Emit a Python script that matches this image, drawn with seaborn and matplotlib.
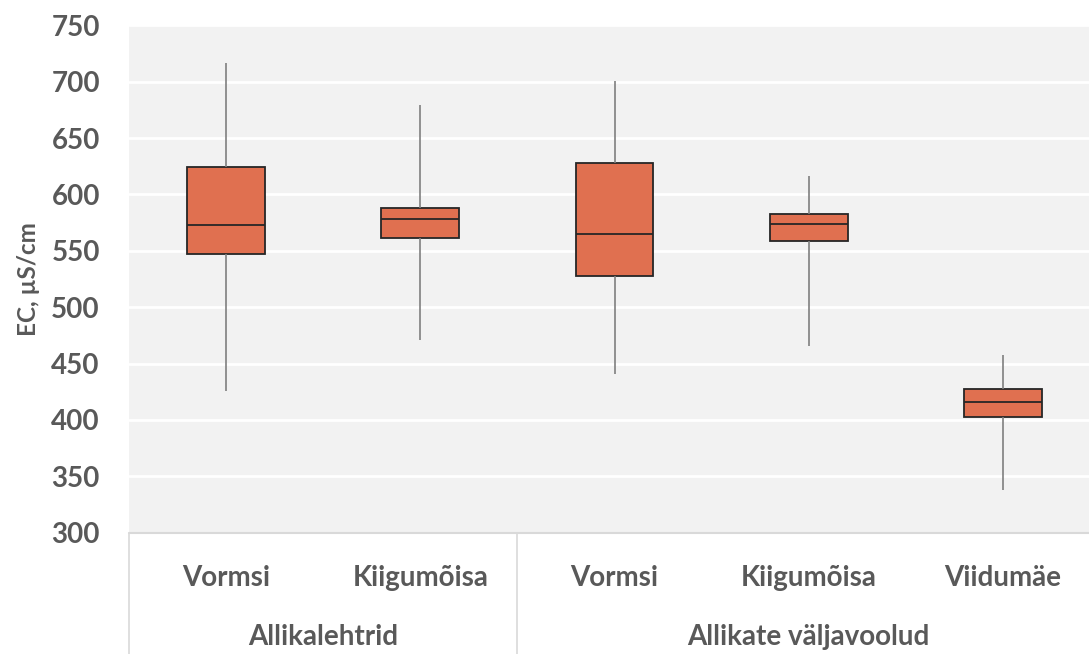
import pandas as pd
import matplotlib.pyplot as plt
import seaborn as sns
import numpy as np

# Andmed (loetud jooniselt): min, Q1, mediaan, Q3, max
groups = ["Allikalehtrid", "Allikalehtrid", "Allikate väljavoolud", "Allikate väljavoolud", "Allikate väljavoolud"]
sites = ["Vormsi", "Kiigumõisa", "Vormsi", "Kiigumõisa", "Viidumäe"]
ec_min = [426, 471, 441, 466, 338]
ec_q1 = [547, 561, 528, 559, 403]
ec_median = [573, 578, 565, 574, 416]
ec_q3 = [624, 588, 628, 583, 427]
ec_max = [717, 679, 701, 616, 458]
group_names = ["Allikalehtrid", "Allikate väljavoolud"]

# Viis punkti igale kastile -> kvartiilid tulevad täpselt need
rows = []
for i in range(len(sites)):
    key = groups[i] + " | " + sites[i]
    for v in [ec_min[i], ec_q1[i], ec_median[i], ec_q3[i], ec_max[i]]:
        rows.append({"key": key, "EC": v})
df = pd.DataFrame(rows)
order = [g + " | " + s for g, s in zip(groups, sites)]

text_col = "#595959"
box_col = "#E07050"

sns.set_style("whitegrid")
plt.rcParams["font.family"] = ["Lato", "DejaVu Sans"]

fig = plt.figure(figsize=(10.89, 6.54), dpi=100)
ax = fig.add_axes([0.1185, 0.1855, 0.8916, 0.7758])
ax.set_facecolor("#F2F2F2")

sns.boxplot(data=df, x="key", y="EC", order=order, ax=ax, width=0.4,
            whis=(0, 100), showfliers=False, color=box_col, saturation=1,
            linewidth=1.3, linecolor="#262626",
            whiskerprops={"color": "#7F7F7F", "linewidth": 1.2},
            capprops={"visible": False},
            medianprops={"color": "#262626", "linewidth": 1.3})

ax.set_ylim(300, 750)
ax.set_yticks(np.arange(300, 751, 50))
ax.set_xlim(-0.5, 4.5)
ax.grid(axis="y", color="white", linewidth=2)
ax.grid(axis="x", visible=False)
for s in ax.spines.values():
    s.set_visible(False)
ax.axhline(300, color="#D9D9D9", linewidth=1.5, clip_on=False)

ax.set_xticks(range(len(sites)))
ax.set_xticklabels(sites)
ax.tick_params(axis="x", length=0, pad=23, labelsize=20, labelcolor=text_col)
ax.tick_params(axis="y", length=0, pad=21, labelsize=20, labelcolor=text_col)
for lab in ax.get_xticklabels() + ax.get_yticklabels():
    lab.set_fontweight("bold")
ax.set_xlabel("")
ax.set_ylabel("EC, µS/cm", fontsize=17.5, fontweight="bold", color=text_col, labelpad=8)

# rühmade sildid ja eraldusjooned
trans = ax.get_xaxis_transform()
for xb in [-0.5, 1.5, 4.5]:
    ax.plot([xb, xb], [0, -0.24], color="#D9D9D9", linewidth=1.2, transform=trans, clip_on=False)
for g in group_names:
    idx = [i for i, gg in enumerate(groups) if gg == g]
    ax.text(np.mean(idx), -0.205, g, transform=trans, ha="center", va="center",
            fontsize=20, fontweight="bold", color=text_col)

fig.savefig("out.png", dpi=100)
